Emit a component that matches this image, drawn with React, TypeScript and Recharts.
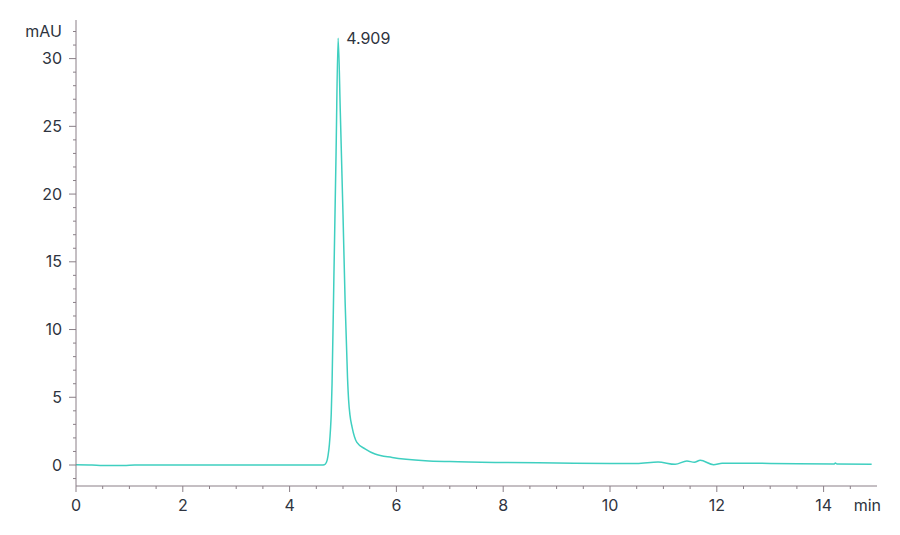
import React from 'react';
import { LineChart, Line, XAxis, YAxis, Label } from 'recharts';

// retention time (min) and absorbance (mAU)
const times = [
  0, 0.3, 0.5, 0.7, 0.9, 1.1, 1.5, 2, 2.5, 3, 3.5, 4, 4.4, 4.6, 4.65,
  4.69, 4.72, 4.745, 4.765, 4.78, 4.795, 4.83, 4.87, 4.909, 4.95, 5.0, 5.04, 5.085,
  5.105, 5.13, 5.17, 5.26, 5.42, 5.6, 5.92, 6.54, 7, 8, 9, 10, 10.5,
  10.9, 11.22, 11.44, 11.58, 11.69, 11.94, 12.1, 13, 14.2, 14.22, 14.25, 14.9,
];
const absorbance = [
  0.02, 0.0, -0.04, -0.03, -0.04, 0.0, 0.0, 0.0, 0.0, 0.0, 0.0, 0.0, 0.0, 0.0, 0.02,
  0.2, 0.7, 1.5, 2.6, 3.8, 6.0, 14, 23, 31.5, 26, 18.5, 12, 6.4,
  4.8, 3.7, 2.8, 1.67, 1.18, 0.81, 0.56, 0.32, 0.25, 0.18, 0.15, 0.12, 0.12,
  0.22, 0.05, 0.3, 0.2, 0.35, 0.02, 0.13, 0.12, 0.08, 0.15, 0.08, 0.06,
];
const peakTime = 4.909;
const peakLabel = '4.909';

const xTicks = [0, 0.5, 1, 1.5, 2, 2.5, 3, 3.5, 4, 4.5, 5, 5.5, 6, 6.5, 7, 7.5, 8, 8.5, 9, 9.5, 10, 10.5, 11, 11.5, 12, 12.5, 13, 13.5, 14, 14.5];
const xLabeled = [0, 2, 4, 6, 8, 10, 12, 14];
const yTicks = [-1, 0, 1, 2, 3, 4, 5, 6, 7, 8, 9, 10, 11, 12, 13, 14, 15, 16, 17, 18, 19, 20, 21, 22, 23, 24, 25, 26, 27, 28, 29, 30, 31, 32];
const yLabeled = [0, 5, 10, 15, 20, 25, 30];

const data = times.map((t, i) => ({ t, mAU: absorbance[i] }));

const axisColor = '#8a7f87';
const textColor = '#2e3440';
const traceColor = '#3fcfc0';
const font = 'Inter, "Noto Sans", sans-serif';

const XTick = (props: any) => {
  const { x, y, payload } = props;
  const major = xLabeled.includes(payload.value);
  return (
    <g>
      <line x1={x} x2={x} y1={y} y2={y + (major ? 6 : 3)} stroke={axisColor} />
      {major && (
        <text x={x} y={y + 25} textAnchor="middle" fill={textColor} fontSize={16} fontFamily={font}>
          {payload.value}
        </text>
      )}
    </g>
  );
};

const YTick = (props: any) => {
  const { x, y, payload } = props;
  const major = yLabeled.includes(payload.value);
  return (
    <g>
      <line x1={x - (major ? 7 : 3)} x2={x} y1={y} y2={y} stroke={axisColor} />
      {major && (
        <text x={x - 14} y={y} dy="0.35em" textAnchor="end" fill={textColor} fontSize={16} fontFamily={font}>
          {payload.value}
        </text>
      )}
    </g>
  );
};

const renderPeak = (props: any) => {
  const { x, y, index } = props;
  if (times[index] !== peakTime) return null;
  return (
    <text key="peak" x={x + 8} y={y} dy="0.35em" fill={textColor} fontSize={16} fontFamily={font}>
      {peakLabel}
    </text>
  );
};

const App = () => {
  return (
    <div style={{ width: 880, height: 520 }}>
      <LineChart
        width={880}
        height={520}
        data={data}
        margin={{ top: 12, right: 11, left: 8, bottom: 12 }}
      >
        <XAxis
          dataKey="t"
          type="number"
          domain={[0, 15]}
          ticks={xTicks}
          interval={0}
          tick={<XTick />}
          tickLine={false}
          tickSize={0}
          tickMargin={0}
          height={30}
          stroke={axisColor}
        >
          <Label
            content={(p: any) => {
              const vb = p.viewBox;
              return (
                <text x={vb.x + vb.width + 4} y={vb.y + 25} textAnchor="end" fill={textColor} fontSize={16} fontFamily={font}>
                  min
                </text>
              );
            }}
          />
        </XAxis>
        <YAxis
          type="number"
          domain={[-1.55, 32.85]}
          ticks={yTicks}
          interval={0}
          tick={<YTick />}
          tickLine={false}
          tickSize={0}
          tickMargin={0}
          width={60}
          stroke={axisColor}
        >
          <Label
            content={(p: any) => {
              const vb = p.viewBox;
              return (
                <text x={vb.x + vb.width - 14} y={vb.y + 11} dy="0.35em" textAnchor="end" fill={textColor} fontSize={16} fontFamily={font}>
                  mAU
                </text>
              );
            }}
          />
        </YAxis>
        <Line
          dataKey="mAU"
          type="monotone"
          stroke={traceColor}
          strokeWidth={1.5}
          dot={false}
          label={renderPeak}
          isAnimationActive={false}
        />
      </LineChart>
    </div>
  );
};

export default App;
